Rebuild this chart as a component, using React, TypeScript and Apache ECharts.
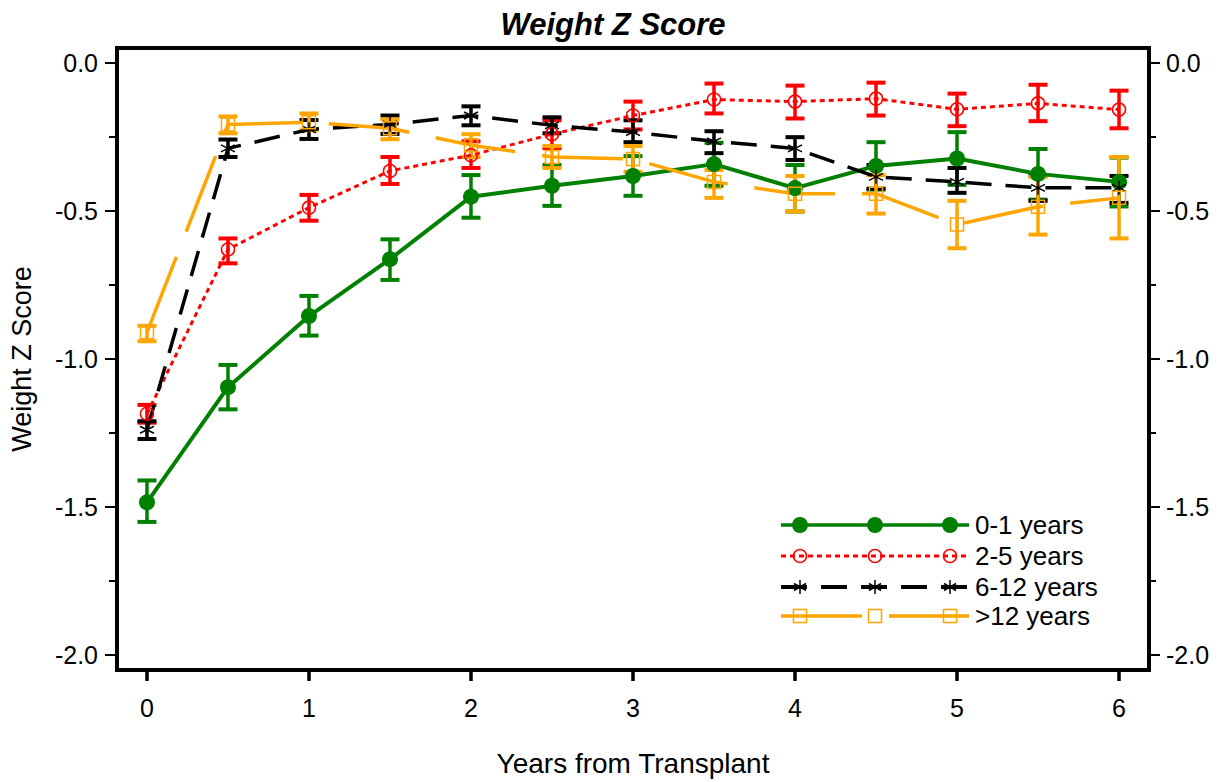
import React, { useEffect, useRef } from "react";
import * as echarts from "echarts";

const FONT = "'Liberation Sans', Arial, Helvetica, sans-serif";

const years = [0, 0.5, 1, 1.5, 2, 2.5, 3, 3.5, 4, 4.5, 5, 5.5, 6];

const g01Mean = [-1.484, -1.095, -0.855, -0.663, -0.452, -0.415, -0.382, -0.342, -0.423, -0.348, -0.323, -0.375, -0.402];
const g01Low = [-1.55, -1.17, -0.921, -0.733, -0.523, -0.483, -0.449, -0.415, -0.502, -0.428, -0.412, -0.462, -0.485];
const g01High = [-1.41, -1.02, -0.787, -0.596, -0.379, -0.345, -0.315, -0.27, -0.345, -0.268, -0.234, -0.291, -0.32];

const g25Mean = [-1.185, -0.63, -0.489, -0.365, -0.312, -0.241, -0.178, -0.124, -0.131, -0.121, -0.157, -0.137, -0.158];
const g25Low = [-1.215, -0.677, -0.533, -0.409, -0.355, -0.288, -0.225, -0.171, -0.188, -0.178, -0.214, -0.197, -0.221];
const g25High = [-1.155, -0.593, -0.446, -0.318, -0.265, -0.194, -0.131, -0.07, -0.077, -0.067, -0.104, -0.074, -0.094];

const g612Mean = [-1.239, -0.289, -0.225, -0.208, -0.178, -0.211, -0.234, -0.265, -0.289, -0.385, -0.402, -0.422, -0.422];
const g612Low = [-1.27, -0.318, -0.257, -0.24, -0.211, -0.238, -0.268, -0.305, -0.328, -0.425, -0.439, -0.466, -0.473];
const g612High = [-1.21, -0.259, -0.193, -0.178, -0.147, -0.184, -0.194, -0.231, -0.251, -0.345, -0.355, -0.38, -0.382];

const g12Mean = [-0.91, -0.208, -0.201, -0.221, -0.278, -0.318, -0.325, -0.402, -0.442, -0.442, -0.546, -0.486, -0.456];
const g12Low = [-0.94, -0.238, -0.228, -0.258, -0.318, -0.355, -0.368, -0.456, -0.502, -0.509, -0.626, -0.58, -0.593];
const g12High = [-0.888, -0.181, -0.171, -0.191, -0.241, -0.281, -0.281, -0.362, -0.382, -0.379, -0.466, -0.385, -0.318];

const xTicks = [0, 1, 2, 3, 4, 5, 6];
const yMajor = [-2, -1.5, -1, -0.5, 0];
const yMinor = [-1.75, -1.25, -0.75, -0.25];

const legendNames = ["0-1 years", "2-5 years", "6-12 years", ">12 years"];

const GREEN = "#008000";
const RED = "#ff0000";
const BLACK = "#000000";
const ORANGE = "#ffa500";

const ASTERISK = "path://M0,-10L0,10M-8.66,-5L8.66,5M-8.66,5L8.66,-5";

function errorSeries(color: string, low: number[], high: number[]) {
  return {
    type: "custom",
    silent: true,
    data: years.map((x, i) => [x, low[i], high[i]]),
    encode: { x: 0, y: [1, 2] },
    renderItem: (params: any, api: any) => {
      const x = api.value(0);
      const lo = api.value(1);
      const hi = api.value(2);
      const p1 = api.coord([x, hi]);
      const p2 = api.coord([x, lo]);
      const hw = 9.5;
      return {
        type: "group",
        children: [
          { type: "line", shape: { x1: p1[0], y1: p1[1], x2: p2[0], y2: p2[1] }, style: { stroke: color, lineWidth: 3.5 } },
          { type: "line", shape: { x1: p1[0] - hw, y1: p1[1], x2: p1[0] + hw, y2: p1[1] }, style: { stroke: color, lineWidth: 4 } },
          { type: "line", shape: { x1: p2[0] - hw, y1: p2[1], x2: p2[0] + hw, y2: p2[1] }, style: { stroke: color, lineWidth: 4 } },
        ],
      };
    },
  };
}

function lineSeries(name: string, mean: number[], color: string, dash: any, width: number, symbol: string, size: number, fill: string, border: number) {
  return {
    type: "line",
    name,
    silent: true,
    data: years.map((x, i) => [x, mean[i]]),
    symbol,
    symbolSize: size,
    showAllSymbol: true,
    lineStyle: { color, width, type: dash },
    itemStyle: { color: fill, borderColor: color, borderWidth: border, opacity: 1 },
  };
}

function legendGraphic() {
  const x1 = 781;
  const x2 = 969;
  const mx = [800, 875, 950];
  const rows = [525, 556, 587, 616];
  const els: any[] = [];
  els.push({ type: "line", shape: { x1, y1: rows[0], x2, y2: rows[0] }, style: { stroke: GREEN, lineWidth: 3.5 } });
  mx.forEach((m) => els.push({ type: "circle", shape: { cx: m, cy: rows[0], r: 8 }, style: { fill: GREEN } }));
  els.push({ type: "line", shape: { x1, y1: rows[1], x2, y2: rows[1] }, style: { stroke: RED, lineWidth: 3, lineDash: [5, 4] } });
  mx.forEach((m) => els.push({ type: "circle", shape: { cx: m, cy: rows[1], r: 6.5 }, style: { fill: "none", stroke: RED, lineWidth: 1.5 } }));
  els.push({ type: "line", shape: { x1, y1: rows[2], x2, y2: rows[2] }, style: { stroke: BLACK, lineWidth: 4, lineDash: [26, 14] } });
  mx.forEach((m) => {
    const r = 7;
    els.push({ type: "line", shape: { x1: m, y1: rows[2] - r, x2: m, y2: rows[2] + r }, style: { stroke: BLACK, lineWidth: 1.5 } });
    els.push({ type: "line", shape: { x1: m - r * 0.87, y1: rows[2] - r * 0.5, x2: m + r * 0.87, y2: rows[2] + r * 0.5 }, style: { stroke: BLACK, lineWidth: 1.5 } });
    els.push({ type: "line", shape: { x1: m - r * 0.87, y1: rows[2] + r * 0.5, x2: m + r * 0.87, y2: rows[2] - r * 0.5 }, style: { stroke: BLACK, lineWidth: 1.5 } });
  });
  els.push({ type: "line", shape: { x1, y1: rows[3], x2, y2: rows[3] }, style: { stroke: ORANGE, lineWidth: 3.5, lineDash: [81, 27] } });
  mx.forEach((m) => els.push({ type: "rect", shape: { x: m - 6.5, y: rows[3] - 6.5, width: 13, height: 13 }, style: { fill: "none", stroke: ORANGE, lineWidth: 1.5 } }));
  legendNames.forEach((t, i) =>
    els.push({
      type: "text",
      x: 975,
      y: rows[i],
      style: { text: t, fill: "#000", font: `26px ${FONT}`, align: "left", verticalAlign: "middle", textAlign: "left", textVerticalAlign: "middle" },
    })
  );
  return els;
}

export default function App() {
  const ref = useRef<HTMLDivElement>(null);
  useEffect(() => {
    if (!ref.current) return;
    const chart = echarts.init(ref.current, undefined, { renderer: "svg" });
    const yLabelFmt = (v: number) => v.toFixed(1);
    const yBase = { type: "value", min: -2.05, max: 0.05, splitLine: { show: false }, axisLine: { show: false, onZero: false } };
    const option: any = {
      animation: false,
      backgroundColor: "#fff",
      textStyle: { fontFamily: FONT },
      title: {
        text: "Weight Z Score",
        left: 608,
        top: 4,
        textAlign: "center",
        textStyle: { fontSize: 31, fontWeight: "bold", fontStyle: "italic", fontFamily: FONT, color: "#000" },
      },
      grid: { left: 117, top: 48, width: 1032, height: 624, show: true, borderWidth: 4, borderColor: "#000", backgroundColor: "transparent" },
      xAxis: {
        type: "value",
        min: -0.185,
        max: 6.185,
        position: "bottom",
        name: "Years from Transplant",
        nameLocation: "middle",
        nameGap: 79,
        nameTextStyle: { fontSize: 28, color: "#000", fontFamily: FONT },
        axisLine: { show: false, onZero: false },
        splitLine: { show: false },
        axisTick: { show: true, inside: false, customValues: xTicks, length: 11, lineStyle: { width: 3.5, color: "#000" } },
        axisLabel: { customValues: xTicks, fontSize: 25, color: "#000", margin: 25, fontFamily: FONT, formatter: (v: number) => String(v) },
      },
      yAxis: [
        {
          ...yBase,
          position: "left",
          name: "Weight Z Score",
          nameLocation: "middle",
          nameGap: 82,
          nameTextStyle: { fontSize: 27, color: "#000", fontFamily: FONT },
          axisTick: { show: true, inside: false, customValues: yMajor, length: 12, lineStyle: { width: 2, color: "#000" } },
          axisLabel: { customValues: yMajor, fontSize: 25, color: "#000", margin: 19, fontFamily: FONT, formatter: yLabelFmt },
        },
        {
          ...yBase,
          position: "left",
          axisTick: { show: true, inside: false, customValues: yMinor, length: 8, lineStyle: { width: 2, color: "#000" } },
          axisLabel: { show: false },
        },
        {
          ...yBase,
          position: "right",
          axisTick: { show: true, inside: false, customValues: yMajor, length: 11, lineStyle: { width: 2, color: "#000" } },
          axisLabel: { customValues: yMajor, fontSize: 25, color: "#000", margin: 17, fontFamily: FONT, formatter: yLabelFmt },
        },
        {
          ...yBase,
          position: "right",
          axisTick: { show: true, inside: false, customValues: yMinor, length: 7, lineStyle: { width: 2, color: "#000" } },
          axisLabel: { show: false },
        },
      ],
      series: [
        errorSeries(GREEN, g01Low, g01High),
        lineSeries(legendNames[0], g01Mean, GREEN, "solid", 4, "circle", 16, GREEN, 0),
        errorSeries(RED, g25Low, g25High),
        lineSeries(legendNames[1], g25Mean, RED, [5, 4], 3, "circle", 13, "rgba(0,0,0,0)", 1.5),
        errorSeries(BLACK, g612Low, g612High),
        lineSeries(legendNames[2], g612Mean, BLACK, [26, 14], 3.5, ASTERISK, 14, "rgba(0,0,0,0)", 1.5),
        errorSeries(ORANGE, g12Low, g12High),
        lineSeries(legendNames[3], g12Mean, ORANGE, [81, 27], 3.5, "rect", 13, "rgba(0,0,0,0)", 1.5),
      ],
      graphic: legendGraphic(),
    };
    chart.setOption(option);
    return () => chart.dispose();
  }, []);
  return <div ref={ref} style={{ position: "absolute", left: 0, top: 0, width: 1219, height: 782 }} />;
}
